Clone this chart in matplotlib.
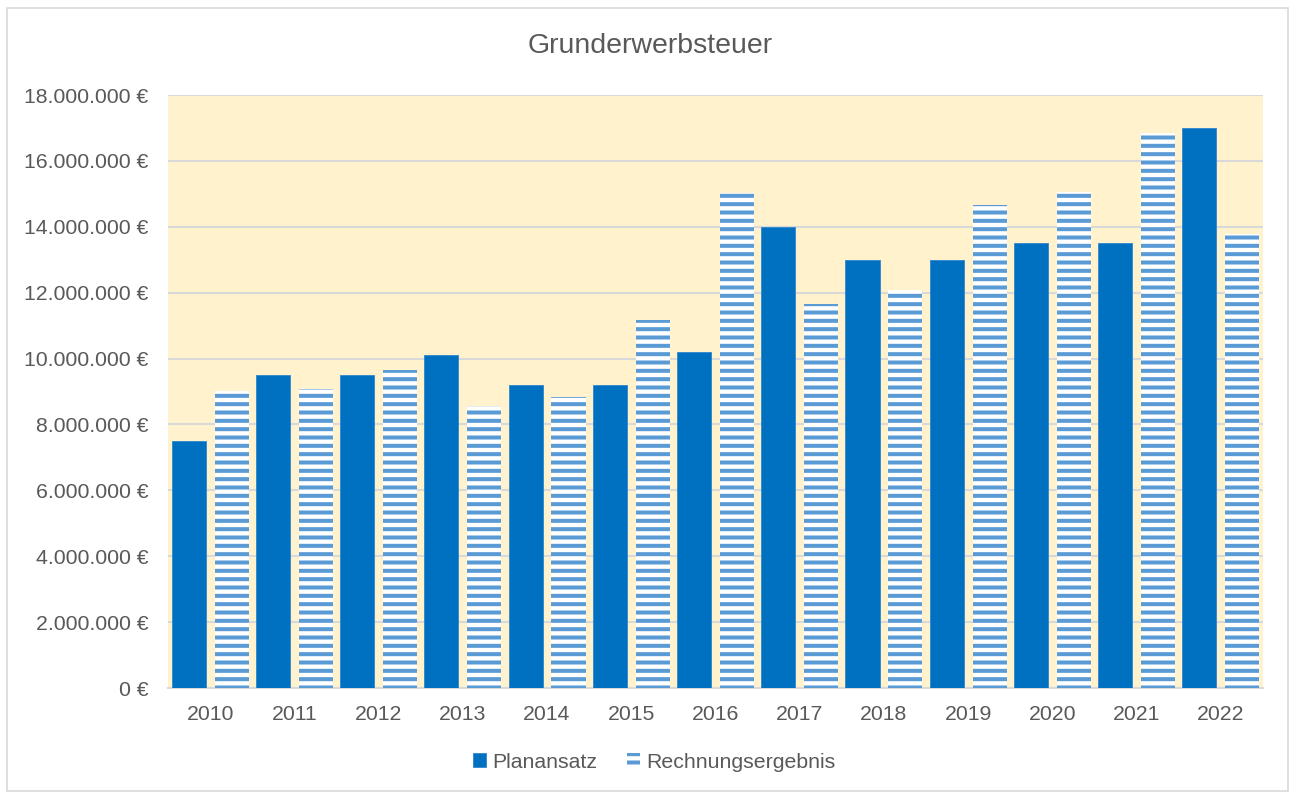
import matplotlib.pyplot as plt
import numpy as np
from matplotlib.ticker import FuncFormatter
from matplotlib.patches import Rectangle

jahre = ['2010', '2011', '2012', '2013', '2014', '2015', '2016',
         '2017', '2018', '2019', '2020', '2021', '2022']
planansatz = [7500000, 9500000, 9500000, 10100000, 9200000, 9200000, 10200000,
              14000000, 13000000, 13000000, 13500000, 13500000, 17000000]
rechnungsergebnis = [9030000, 9080000, 9650000, 8570000, 8830000, 11170000, 15040000,
                     11660000, 12080000, 14650000, 15050000, 16860000, 13780000]

plt.rcParams['font.family'] = ['Liberation Sans', 'DejaVu Sans']
plt.rcParams['hatch.linewidth'] = 2.9

grau = '#595959'

fig = plt.figure(figsize=(12.91, 7.94), dpi=100)
ax = fig.add_axes([168 / 1291, 1 - 688 / 794, (1263 - 168) / 1291, (688 - 95) / 794])

x = np.arange(len(jahre))
b = 0.405
ax.bar(x - 0.255, planansatz, b, color='#0070C0', edgecolor='#2E86CF', linewidth=0.6,
       label='Planansatz', zorder=3)
ax.bar(x + 0.255, rechnungsergebnis, b, color='white', edgecolor='#5B9BD5', linewidth=0,
       hatch='--', label='Rechnungsergebnis', zorder=3)

ax.set_facecolor('#FFF2CC')
ax.set_xlim(-0.5, len(jahre) - 0.5)
ax.set_ylim(0, 18000000)
ax.set_yticks(np.arange(0, 18000001, 2000000))
ax.yaxis.set_major_formatter(FuncFormatter(lambda v, p: f'{int(v):,} €'.replace(',', '.')))
ax.set_xticks(x)
ax.set_xticklabels(jahre)
ax.grid(axis='y', color='#D9D9D9', linewidth=1.5, zorder=0)
for s in ['top', 'right', 'left']:
    ax.spines[s].set_visible(False)
ax.spines['bottom'].set_color('#D9D9D9')
ax.spines['bottom'].set_linewidth(1.5)
ax.tick_params(axis='both', length=0, labelsize=15.3, labelcolor=grau)
ax.tick_params(axis='y', pad=14)
ax.tick_params(axis='x', pad=12)

fig.text(650 / 1291, 1 - 46 / 794, 'Grunderwerbsteuer', ha='center', va='center',
         fontsize=20.5, color=grau)

leg = fig.legend(loc='center', bbox_to_anchor=(654 / 1291, 1 - 762 / 794), ncol=2,
                 frameon=False, fontsize=15.3, handlelength=0.6, handleheight=0.6,
                 handletextpad=0.3, columnspacing=1.4)
for t in leg.get_texts():
    t.set_color(grau)

fig.patches.append(Rectangle((7 / 1291, 0.004), 1 - 10 / 1291, 1 - 8 / 794 - 0.004,
                             transform=fig.transFigure, fill=False,
                             edgecolor='#D9D9D9', linewidth=1.2, zorder=0))

fig.savefig('out.png', dpi=100)
